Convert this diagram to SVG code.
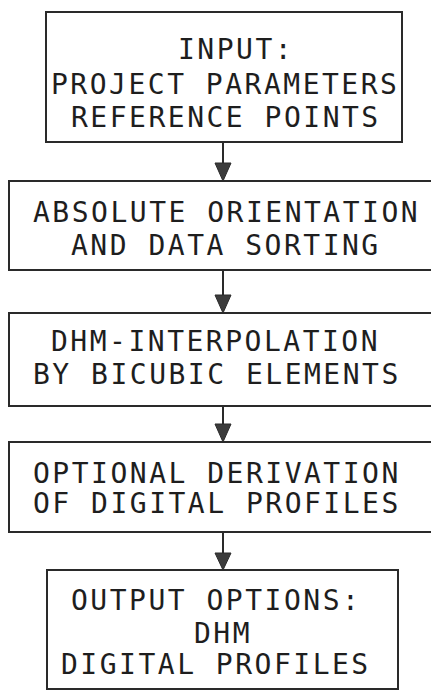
<svg xmlns="http://www.w3.org/2000/svg" width="431" height="692" viewBox="0 0 431 692">
<style>
.box{fill:#ffffff;stroke:#2a2a2a;stroke-width:2}
.t{font-family:"DejaVu Sans Mono","Liberation Mono",monospace;font-size:28px;letter-spacing:2.5px;fill:#1e1e1e}
.ln{stroke:#2a2a2a;stroke-width:2;fill:none}
.ah{fill:#3c3c3c;stroke:#2a2a2a;stroke-width:1}
</style>
<rect width="431" height="692" fill="#ffffff"/>
<g id="connectors">
<line class="ln" x1="223" y1="142" x2="223" y2="165"/>
<path class="ah" d="M215,163 L231,163 L223,181 Z"/>
<line class="ln" x1="223" y1="270" x2="223" y2="297"/>
<path class="ah" d="M215,295 L231,295 L223,313 Z"/>
<line class="ln" x1="223" y1="406" x2="223" y2="426"/>
<path class="ah" d="M215,424 L231,424 L223,442 Z"/>
<line class="ln" x1="223" y1="532" x2="223" y2="555"/>
<path class="ah" d="M215,553 L231,553 L223,570 Z"/>
</g>
<g id="n1">
<rect class="box" x="46" y="12" width="356" height="130"/>
<text class="t" x="178" y="59">INPUT:</text>
<text class="t" x="51" y="94">PROJECT PARAMETERS</text>
<text class="t" x="71" y="127">REFERENCE POINTS</text>
</g>
<g id="n2">
<rect class="box" x="9" y="181" width="430" height="89"/>
<text class="t" x="33" y="222">ABSOLUTE ORIENTATION</text>
<text class="t" x="71" y="255">AND DATA SORTING</text>
</g>
<g id="n3">
<rect class="box" x="9" y="313" width="430" height="93"/>
<text class="t" x="51" y="351">DHM-INTERPOLATION</text>
<text class="t" x="33" y="384">BY BICUBIC ELEMENTS</text>
</g>
<g id="n4">
<rect class="box" x="9" y="442" width="430" height="90"/>
<text class="t" x="33" y="483">OPTIONAL DERIVATION</text>
<text class="t" x="33" y="513">OF DIGITAL PROFILES</text>
</g>
<g id="n5">
<rect class="box" x="47" y="570" width="351" height="119"/>
<text class="t" x="71" y="610">OUTPUT OPTIONS:</text>
<text class="t" x="194" y="643">DHM</text>
<text class="t" x="61" y="674">DIGITAL PROFILES</text>
</g>
</svg>
